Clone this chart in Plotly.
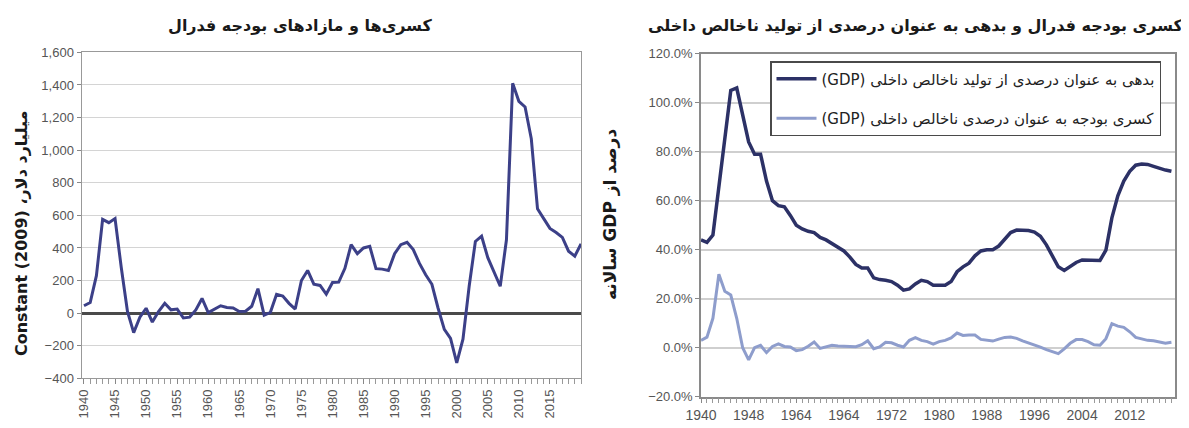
import plotly.graph_objects as go

# ---------------- data ----------------
years_left = list(range(1940, 2021))
deficit_billions = [
    45, 65, 230, 575, 555, 580, 280, 10, -120, -25,
    30, -55, 10, 60, 20, 25, -30, -25, 20, 90,
    3, 25, 45, 35, 32, 10, 12, 42, 150, -12,
    5, 115, 105, 60, 25, 200, 262, 178, 170, 116,
    188, 190, 275, 420, 365, 400, 410, 273, 270, 262,
    365, 420, 435, 390, 305, 235, 177, 30, -100, -155,
    -305, -160, 165, 440, 472, 340, 258, 165, 450, 1410,
    1300, 1265, 1070, 640, 580, 520, 495, 465, 380, 350,
    425,
]

years_right = list(range(1940, 2020))
debt_pct = [
    44, 43, 46, 66, 86, 105, 106, 95, 84, 79,
    79, 68, 60, 58, 57.5, 54, 50, 48.5, 47.5, 47,
    45, 44, 42.5, 41, 39.5, 37, 34, 32.5, 32.5, 28.5,
    27.8, 27.5, 27, 25.5, 23.5, 24, 26, 27.5, 27, 25.5,
    25.5, 25.5, 27, 31, 33, 34.5, 37.5, 39.5, 40, 40,
    41.5, 44, 47, 48, 48, 47.8, 47.2, 45.5, 42, 37.5,
    33, 31.5, 33, 34.8, 35.8, 35.8, 35.6, 35.6, 39.8, 53,
    62, 68, 72, 74.5, 75, 74.8, 74, 73.2, 72.5, 72,
]
deficit_pct = [
    3.0, 4.3, 12, 30, 23, 21.5, 12, 0, -5, 0,
    1, -2, 0.5, 1.6, 0.5, 0.3, -1.2, -0.8, 0.6, 2.3,
    -0.3, 0.5, 1.0, 0.7, 0.6, 0.2, 0.4, 1.2, 2.8, -0.4,
    0.3, 2.2, 2.0, 1.0, 0.3, 3.0, 4.1, 3.0, 2.5, 1.5,
    2.5, 3.0, 4.0, 6.0, 5.0, 5.2, 5.2, 3.4, 3.0, 2.7,
    3.5, 4.2, 4.4, 3.8, 2.8, 2.0, 1.0, 0.2, -0.8, -1.6,
    -2.4, -0.5, 1.8, 3.3, 3.3, 2.5, 1.2, 1.0, 3.7, 9.8,
    8.8, 8.3, 6.5, 4.2, 3.5, 3.0, 2.8, 2.4, 1.8, 2.2,
]

left_xticks = list(range(1940, 2016, 5))
right_xtickvals = [1940, 1948, 1956, 1964, 1972, 1980, 1988, 1996, 2004, 2012]
right_xticktext = ["1940", "1948", "1964", "1964", "1972", "1980", "1988", "1996", "2004", "2012"]

title_left = "کسری‌ها و مازادهای بودجه فدرال"
title_right = "کسری بودجه فدرال و بدهی به عنوان درصدی از تولید ناخالص داخلی"
ytitle_left = "Constant (2009) ،میلیارد دلار"
ytitle_right = "سالانه GDP درصد از"
name_debt = "(GDP) بدهی به عنوان درصدی از تولید ناخالص داخلی"
name_deficit = "(GDP) کسری بودجه به عنوان درصدی ناخالص داخلی"

# ---------------- figure ----------------
# the page places the figure 8px from the top-left corner (body margin)
OFF = 8
W, H = 1189 - OFF, 428 - OFF
TICKFONT = dict(family="Liberation Sans Narrow, Liberation Sans, Arial Narrow, sans-serif",
                size=13, color="#555555")
FA = "DejaVu Sans, Noto Sans, sans-serif"

fig = go.Figure()
fig.add_trace(go.Scatter(x=years_left, y=deficit_billions, mode="lines",
                         line=dict(color="#3c4088", width=3),
                         xaxis="x", yaxis="y", showlegend=False))
fig.add_trace(go.Scatter(x=years_right, y=debt_pct, mode="lines", name=name_debt,
                         line=dict(color="#2c3166", width=3.5),
                         xaxis="x2", yaxis="y2", legendgroup="a"))
fig.add_trace(go.Scatter(x=years_right, y=deficit_pct, mode="lines", name=name_deficit,
                         line=dict(color="#8e9dcc", width=3),
                         xaxis="x2", yaxis="y2", legendgroup="b"))

def px_x(p):
    return (p - OFF) / W

def px_y(p):
    return 1 - (p - OFF) / H

fig.update_layout(
    width=W, height=H,
    margin=dict(l=0, r=0, t=0, b=0, autoexpand=False),
    paper_bgcolor="white", plot_bgcolor="white",
    xaxis=dict(domain=[px_x(81.5), px_x(581)], range=[1939.6, 2020], automargin=False,
               tickmode="array", tickvals=left_xticks, tickangle=-90,
               ticks="outside", ticklen=5, tickcolor="#888888",
               minor=dict(tickmode="linear", tick0=1940, dtick=1, ticks="outside",
                          ticklen=5, tickcolor="#999999"),
               showline=True, linecolor="#999999", linewidth=1, mirror=True,
               showgrid=False, zeroline=False, tickfont=TICKFONT),
    yaxis=dict(domain=[px_y(378.3), px_y(52.4)], range=[-400, 1600], automargin=False,
               tickmode="linear", tick0=-400, dtick=200, tickformat=",d",
               ticks="outside", ticklen=4, tickcolor="#888888",
               showline=True, linecolor="#999999", linewidth=1, mirror=True,
               showgrid=True, gridcolor="#d4d4d4", gridwidth=1,
               zeroline=True, zerolinecolor="#4a4a4a", zerolinewidth=3,
               tickfont=TICKFONT),
    xaxis2=dict(domain=[px_x(701), px_x(1175)], range=[1940, 2019.6], automargin=False,
                tickmode="array", tickvals=right_xtickvals, ticktext=right_xticktext,
                ticks="outside", ticklen=5, tickcolor="#888888",
                minor=dict(tickmode="linear", tick0=1940, dtick=1, ticks="outside",
                           ticklen=5, tickcolor="#999999"),
                showline=True, linecolor="#8a8a8a", linewidth=1.5, mirror=True,
                showgrid=False, zeroline=False,
                tickfont=dict(TICKFONT, size=14), anchor="y2"),
    yaxis2=dict(domain=[px_y(396.7), px_y(53.7)], range=[-20, 120], automargin=False,
                tickmode="linear", tick0=-20, dtick=20, tickformat=".1f", ticksuffix="%",
                ticks="outside", ticklen=4, tickcolor="#888888",
                showline=True, linecolor="#8a8a8a", linewidth=1.5, mirror=True,
                showgrid=True, gridcolor="#cfcfcf", gridwidth=1.5,
                zeroline=False, tickfont=TICKFONT, anchor="x2"),
    showlegend=True,
    legend=dict(x=px_x(770), y=px_y(61), xanchor="left", yanchor="top",
                bgcolor="white", bordercolor="#4a4a4a", borderwidth=1.5,
                font=dict(family=FA, size=15, color="#222222"),
                tracegroupgap=17, itemwidth=40),
    annotations=[
        dict(text="<b>" + title_left + "</b>", x=px_x(300), y=px_y(26),
             xref="paper", yref="paper", xanchor="center", yanchor="middle",
             showarrow=False, font=dict(family=FA, size=16, color="#1a1a1a")),
        dict(text="<b>" + title_right + "</b>", x=px_x(915), y=px_y(26),
             xref="paper", yref="paper", xanchor="center", yanchor="middle",
             showarrow=False, font=dict(family=FA, size=16, color="#1a1a1a")),
        dict(text="<b>" + ytitle_left + "</b>", x=px_x(21), y=px_y(234),
             xref="paper", yref="paper", xanchor="center", yanchor="middle",
             showarrow=False, textangle=-90,
             font=dict(family=FA, size=16, color="#1a1a1a")),
        dict(text="<b>" + ytitle_right + "</b>", x=px_x(610), y=px_y(215),
             xref="paper", yref="paper", xanchor="center", yanchor="middle",
             showarrow=False, textangle=-90,
             font=dict(family=FA, size=17, color="#1a1a1a")),
    ],
)

fig.write_html("out.html")
